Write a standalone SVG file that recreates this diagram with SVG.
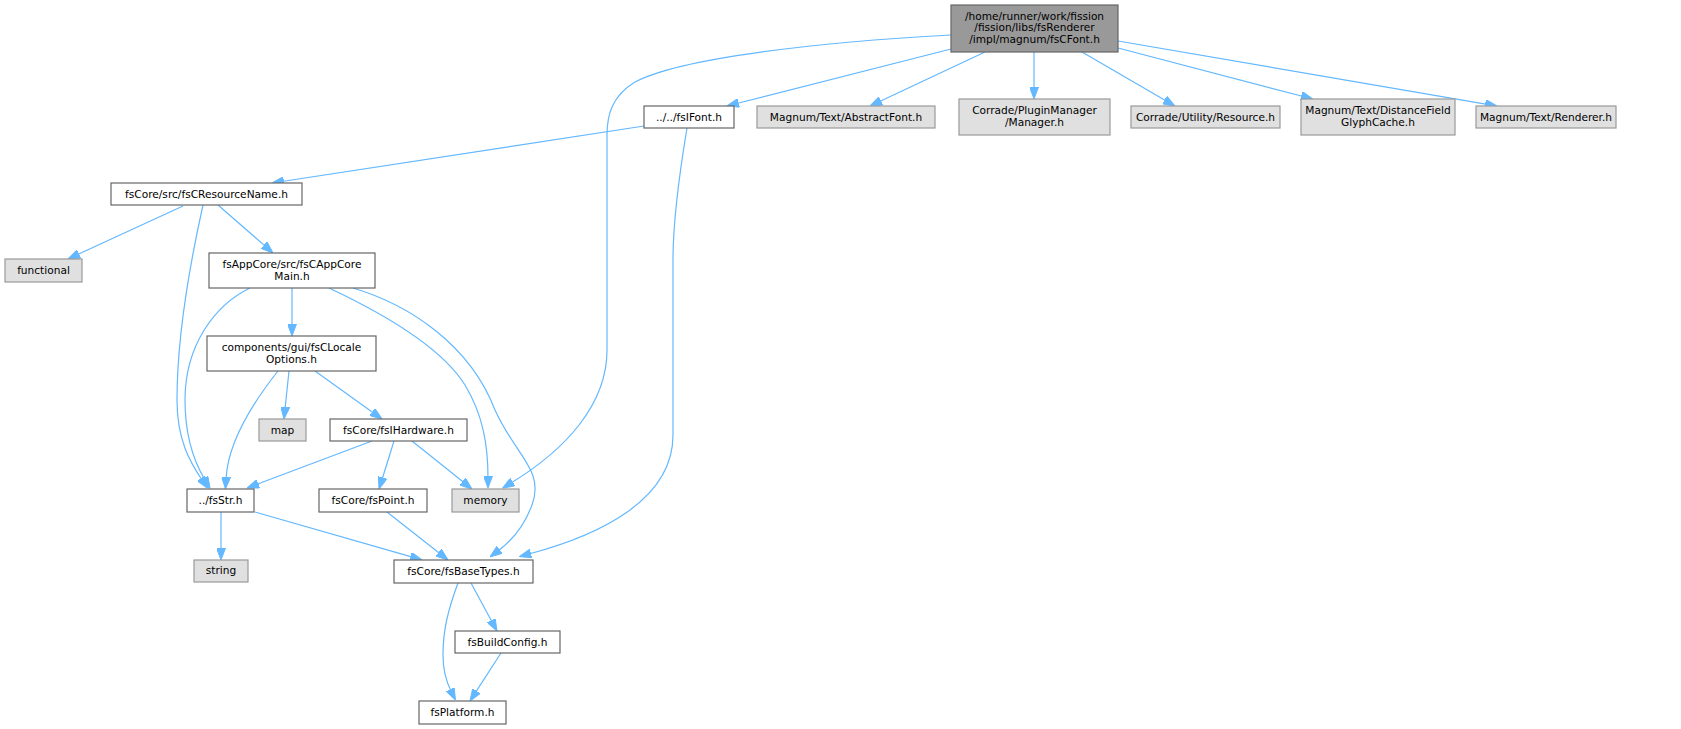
<svg xmlns="http://www.w3.org/2000/svg" width="1681" height="729" viewBox="0 0 1681 729">
<style>
text{font-family:"DejaVu Sans","Liberation Sans",sans-serif;font-size:10.6px;fill:#000;text-anchor:middle}
.n rect{fill:#fff;stroke:#666;stroke-width:1.2}
.g rect{fill:#e0e0e0;stroke:#999;stroke-width:1.2}
.r rect{fill:#999;stroke:#666;stroke-width:1.2}
#edges path{fill:none;stroke:#63b8ff;stroke-width:1.2;marker-end:url(#ah)}
</style>
<defs>
<marker id="ah" viewBox="0 0 12 9" refX="2" refY="4.5" markerWidth="12" markerHeight="9" markerUnits="userSpaceOnUse" orient="auto">
<path d="M0,0 L12,4.5 L0,9 Z" fill="#63b8ff" stroke="#63b8ff" stroke-width="1"/>
</marker>
</defs>
<rect width="1681" height="729" fill="#fff"/>
<g id="edges">
<path d="M951,49 L736.7,103.5"/>
<path d="M985,52 L879.1,101.7"/>
<path d="M1034,52 L1034,89"/>
<path d="M1082,52 L1166.3,101"/>
<path d="M1118,48 L1303.3,96.5"/>
<path d="M1118,41 L1487.1,104.3"/>
<path d="M951,35 C820,42 680,58 635,82 C612,96 607,115 607,135 L607,350 C607,405 565,450 511,483"/>
<path d="M644,126 L281.9,181.5"/>
<path d="M687,128 C680,170 673,220 673,260 L673,435 C673,500 600,535 529,554"/>
<path d="M183,206 L77.1,254.8"/>
<path d="M218,205 L265.5,246.4"/>
<path d="M203,205 C193,250 177,330 177,400 C177,440 190,462 202,480"/>
<path d="M292,288 L292,326"/>
<path d="M250,288 C215,305 185,345 185,400 C185,440 196,465 205,480"/>
<path d="M329,288 C380,312 440,345 465,385 C483,415 488,445 488,478"/>
<path d="M353,288 C410,305 470,345 495,410 C515,455 545,470 532,505 C524,527 510,542 498,551"/>
<path d="M289,371 L285,409"/>
<path d="M278,371 C255,400 228,440 226,479"/>
<path d="M315,371 L373.9,413.2"/>
<path d="M372,441 L256.4,484.5"/>
<path d="M394,441 L382,479.5"/>
<path d="M412,441 L464.2,482.8"/>
<path d="M221,512 L221,550"/>
<path d="M255,512 L412.4,557.2"/>
<path d="M387,512 L440.1,553.8"/>
<path d="M471,583 L492.2,622.2"/>
<path d="M458,583 C448,610 443,630 443,655 C443,672 447,683 451,691"/>
<path d="M501,653 L475.4,692.6"/>
</g>
<g id="root" class="r"><rect x="951" y="5" width="167" height="47"/><text x="1034.5" y="19.5">/home/runner/work/fission</text><text x="1034.5" y="31">/fission/libs/fsRenderer</text><text x="1034.5" y="42.5">/impl/magnum/fsCFont.h</text></g>
<g id="fsIFont" class="n"><rect x="644" y="106" width="90" height="22"/><text x="689" y="120.5">../../fsIFont.h</text></g>
<g id="abstractFont" class="g"><rect x="757" y="106" width="178" height="22"/><text x="846" y="120.5">Magnum/Text/AbstractFont.h</text></g>
<g id="pluginManager" class="g"><rect x="959" y="99" width="151" height="36"/><text x="1034.5" y="114">Corrade/PluginManager</text><text x="1034.5" y="126">/Manager.h</text></g>
<g id="resource" class="g"><rect x="1131" y="106" width="149" height="22"/><text x="1205.5" y="120.5">Corrade/Utility/Resource.h</text></g>
<g id="distanceField" class="g"><rect x="1301" y="99" width="154" height="36"/><text x="1378" y="114">Magnum/Text/DistanceField</text><text x="1378" y="126">GlyphCache.h</text></g>
<g id="renderer" class="g"><rect x="1476" y="106" width="140" height="22"/><text x="1546" y="120.5">Magnum/Text/Renderer.h</text></g>
<g id="resourceName" class="n"><rect x="111" y="183" width="191" height="22"/><text x="206.5" y="197.5">fsCore/src/fsCResourceName.h</text></g>
<g id="functional" class="g"><rect x="5" y="259" width="77" height="23"/><text x="43.5" y="273.5">functional</text></g>
<g id="appCoreMain" class="n"><rect x="209" y="253" width="166" height="35"/><text x="292" y="267.5">fsAppCore/src/fsCAppCore</text><text x="292" y="279.5">Main.h</text></g>
<g id="localeOptions" class="n"><rect x="207" y="336" width="169" height="35"/><text x="291.5" y="350.5">components/gui/fsCLocale</text><text x="291.5" y="362.5">Options.h</text></g>
<g id="map" class="g"><rect x="259" y="419" width="47" height="22"/><text x="282.5" y="433.5">map</text></g>
<g id="hardware" class="n"><rect x="330" y="419" width="137" height="22"/><text x="398.5" y="433.5">fsCore/fsIHardware.h</text></g>
<g id="fsStr" class="n"><rect x="187" y="489" width="67" height="23"/><text x="220.5" y="503.5">../fsStr.h</text></g>
<g id="fsPoint" class="n"><rect x="319" y="489" width="108" height="23"/><text x="373" y="503.5">fsCore/fsPoint.h</text></g>
<g id="memory" class="g"><rect x="452" y="489" width="67" height="23"/><text x="485.5" y="503.5">memory</text></g>
<g id="string" class="g"><rect x="194" y="560" width="54" height="22"/><text x="221" y="574">string</text></g>
<g id="baseTypes" class="n"><rect x="394" y="560" width="139" height="23"/><text x="463.5" y="574.5">fsCore/fsBaseTypes.h</text></g>
<g id="buildConfig" class="n"><rect x="455" y="631" width="105" height="22"/><text x="507.5" y="645.5">fsBuildConfig.h</text></g>
<g id="platform" class="n"><rect x="419" y="701" width="87" height="23"/><text x="462.5" y="715.5">fsPlatform.h</text></g>
</svg>
